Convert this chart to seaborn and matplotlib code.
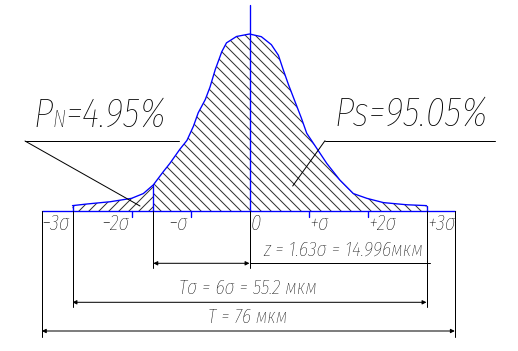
import numpy as np
import pandas as pd
import matplotlib
matplotlib.use("Agg")
import matplotlib.pyplot as plt
import seaborn as sns
from matplotlib import font_manager

# ---------------- data ----------------
sigma_pos = [-3, -2, -1, 0, 1, 2, 3]
sigma_labels = ["\u22123σ", "\u22122σ", "\u2212σ", "0", "+σ", "+2σ", "+3σ"]

curve_x = [-3.0, -2.76, -2.36, -2.0, -1.80, -1.63, -1.46, -1.35, -1.18, -1.06,
           -0.95, -0.87, -0.75, -0.67, -0.58, -0.53, -0.47, -0.39, -0.22, 0.0,
           0.20, 0.37, 0.49, 0.57, 0.66, 0.77, 0.88, 0.97, 1.14, 1.31,
           1.53, 1.76, 1.99, 2.27, 2.66, 3.0]
curve_y = [0.032, 0.041, 0.054, 0.073, 0.10, 0.149, 0.224, 0.27, 0.35, 0.40,
           0.48, 0.555, 0.63, 0.70, 0.80, 0.845, 0.90, 0.95, 0.986, 1.0,
           0.985, 0.94, 0.88, 0.80, 0.715, 0.62, 0.525, 0.44, 0.355, 0.27,
           0.177, 0.10, 0.073, 0.049, 0.037, 0.032]

p_n = 4.95
p_s = 95.05
z_sigma = 1.63
z_um = 14.996
t_sigma_um = 55.2
T_um = 76
T_bounds = [-3.52, 3.48]

# ---------------- style ----------------
sns.set_theme(style="white")
names = {f.name for f in font_manager.fontManager.ttflist}
prefs = [("GOST type A", "normal"), ("ISOCPEUR", "normal"),
         ("Fira Sans Extra Condensed", "light"), ("PT Sans Narrow", "normal"),
         ("Roboto Condensed", "normal"), ("Liberation Sans", "normal")]
FONT, WEIGHT = next((n, w) for n, w in prefs if n in names)
plt.rcParams["font.family"] = [FONT, "DejaVu Sans"]
plt.rcParams["font.weight"] = WEIGHT
plt.rcParams["hatch.linewidth"] = 0.6

DPI = 120
W, H = 518, 351
fig = plt.figure(figsize=(W / DPI, H / DPI), dpi=DPI)
ax = fig.add_axes([0, 0, 1, 1])
ax.set_axis_off()

CX, SX, BY, SY = 249.5, 59.0, 211.3, 177.3
ax.set_xlim(-CX / SX, (W - CX) / SX)
ax.set_ylim((BY - H) / SY, BY / SY)

def X(px):
    return (px - CX) / SX

def Y(py):
    return (BY - py) / SY

BLUE = "#0000ff"
BLK = "black"
HATCH = "#303030"
LW = 0.6

df = pd.DataFrame({"x": curve_x, "y": curve_y})
cx = np.array(curve_x)
cy = np.array(curve_y)

# hatched areas
left = cx <= -z_sigma + 1e-9
right = cx >= -z_sigma - 1e-9
ax.fill_between(cx[left], 0, cy[left], facecolor="none", edgecolor=HATCH,
                hatch="////", linewidth=0)
ax.fill_between(cx[right], 0, cy[right], facecolor="none", edgecolor=HATCH,
                hatch="\\\\\\\\", linewidth=0)

# curve
sns.lineplot(data=df, x="x", y="y", sort=False, estimator=None, color=BLUE,
             lw=0.8, ax=ax, legend=False)
ax.set_xlabel("")
ax.set_ylabel("")

# vertical drops at +-3 sigma and at -z
for xv, yv in [(curve_x[0], curve_y[0]), (curve_x[-1], curve_y[-1]),
               (-z_sigma, curve_y[curve_x.index(-z_sigma)])]:
    ax.plot([xv, xv], [0, yv], color=BLUE, lw=0.8)

# baseline
ax.plot(T_bounds, [0, 0], color=BLUE, lw=0.8)
# center line
ax.plot([0, 0], [0, Y(5)], color=BLUE, lw=0.8)
# sigma ticks
for s in sigma_pos:
    if abs(s) in (1, 2):
        ax.plot([s, s], [0, Y(216.7)], color=BLUE, lw=0.8)

fig.canvas.draw()
r = fig.canvas.get_renderer()
inv = ax.transData.inverted()

def px_width(t):
    bb = t.get_window_extent(renderer=r)
    return bb.width

def fit(t, target):
    w = px_width(t)
    t.set_fontsize(t.get_fontsize() * target / w)
    return t

def txt(x, y, s, fs, ha="left"):
    return ax.text(x, y, s, ha=ha, va="baseline", fontsize=fs,
                   style="italic", color=BLK)

# sigma labels (size fitted on "+2σ")
probe = txt(0, Y(229.5), sigma_labels[5], 12)
fit(probe, 28)
SFS = probe.get_fontsize()
probe.remove()
for s, lab in zip(sigma_pos, sigma_labels):
    if s < 0:
        txt(s - 0.04, Y(229.5), lab, SFS, ha="right")
    else:
        txt(s + 0.02, Y(229.5), lab, SFS, ha="left")

# extension lines
for xv in T_bounds:
    ax.plot([xv, xv], [0, Y(337)], color=BLK, lw=LW)
for xv in (-3, 3):
    ax.plot([xv, xv], [0, Y(307)], color=BLK, lw=LW)
for xv in (-z_sigma, 0):
    ax.plot([xv, xv], [0, Y(268)], color=BLK, lw=LW)

# dimension lines
def dim(x0, x1, y):
    ax.annotate("", xy=(x0, y), xytext=(x1, y),
                arrowprops=dict(arrowstyle="<|-|>", mutation_scale=5, lw=LW,
                                color=BLK, shrinkA=0, shrinkB=0))

dim(-z_sigma, 0, Y(263.3))
ax.plot([0, X(430)], [Y(263.3), Y(263.3)], color=BLK, lw=LW)
dim(-3, 3, Y(302.3))
dim(T_bounds[0], T_bounds[1], Y(331))

fit(txt(X(343), Y(256), f"z = {z_sigma}σ = {z_um}мкм", 12, ha="center"), 160)
fit(txt(X(248), Y(294), f"Tσ = 6σ = {t_sigma_um} мкм", 12, ha="center"), 138)
fit(txt(X(248), Y(323), f"T = {T_um} мкм", 12, ha="center"), 79)

# leaders
ax.plot([X(25), X(179)], [Y(141), Y(141)], color=BLK, lw=LW)
ax.plot([X(25), X(140)], [Y(141), Y(206)], color=BLK, lw=LW)
ax.plot([X(325), X(495)], [Y(140.7), Y(140.7)], color=BLK, lw=LW)
ax.plot([X(325), X(292.7)], [Y(140.7), Y(186)], color=BLK, lw=LW)

# big labels
ps = fit(txt(X(334), Y(126), f"Ps={p_s}%", 24), 154)
BIG = ps.get_fontsize()

def chain(x0, y0, parts):
    x = x0
    for s, fs in parts:
        t = txt(x, y0, s, fs)
        bb = t.get_window_extent(renderer=r)
        x = inv.transform((bb.x1, bb.y0))[0]

chain(X(33), Y(127), [("P", BIG), ("N", BIG * 0.58), (f"={p_n}%", BIG)])

fig.savefig("out.png", dpi=DPI)
